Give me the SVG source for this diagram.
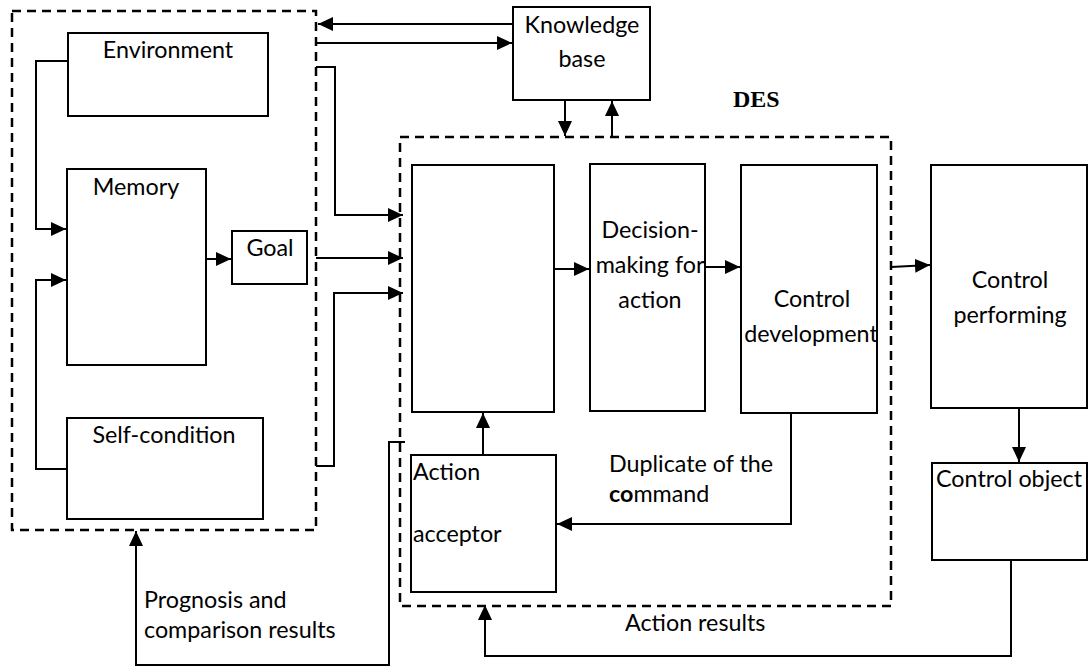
<svg xmlns="http://www.w3.org/2000/svg" width="1089" height="666" viewBox="0 0 1089 666">
<style>
.box{fill:#fff;stroke:#000;stroke-width:2}
.dash{fill:none;stroke:#000;stroke-width:2.5;stroke-dasharray:9 6}
.ln{fill:none;stroke:#000;stroke-width:2}
text{font-family:Lato,"Open Sans",sans-serif;font-size:23.3px;fill:#000}
.c{text-anchor:middle}
.des{font-family:"Liberation Serif",serif;font-weight:bold;font-size:24px}
</style>
<defs>
<marker id="ah" markerUnits="userSpaceOnUse" markerWidth="16" markerHeight="14" refX="15" refY="7" orient="auto">
<path d="M0,0 L15,7 L0,14 Z" fill="#000"/>
</marker>
</defs>
<rect width="1089" height="666" fill="#fff"/>
<g id="containers">
<rect id="left-group" class="dash" x="12" y="11" width="304" height="519"/>
<rect id="des-group" class="dash" x="400" y="137" width="491" height="469"/>
<text class="des" x="733" y="107">DES</text>
</g>
<g id="connectors">
<path class="ln" d="M68,61 H36 V229 H66" marker-end="url(#ah)"/>
<path class="ln" d="M67,469 H36 V280 H66" marker-end="url(#ah)"/>
<path class="ln" d="M206,259 H231" marker-end="url(#ah)"/>
<path class="ln" d="M513,24 H318" marker-end="url(#ah)"/>
<path class="ln" d="M316,43 H512" marker-end="url(#ah)"/>
<path class="ln" d="M565,100 V136" marker-end="url(#ah)"/>
<path class="ln" d="M612,137 V101" marker-end="url(#ah)"/>
<path class="ln" d="M316,67 H335 V215 H403" marker-end="url(#ah)"/>
<path class="ln" d="M316,258 H403" marker-end="url(#ah)"/>
<path class="ln" d="M316,466 H334 V293 H403" marker-end="url(#ah)"/>
<path class="ln" d="M554,269 H589" marker-end="url(#ah)"/>
<path class="ln" d="M705,267 H740" marker-end="url(#ah)"/>
<path class="ln" d="M891,267 L930,265" marker-end="url(#ah)"/>
<path class="ln" d="M483,455 V413" marker-end="url(#ah)"/>
<path class="ln" d="M791,413 V524 H557" marker-end="url(#ah)"/>
<path class="ln" d="M1019,408 V462" marker-end="url(#ah)"/>
<path class="ln" d="M1011,560 V656 H485 V605" marker-end="url(#ah)"/>
<path class="ln" d="M405,442 H389 V665 H136 V531" marker-end="url(#ah)"/>
</g>
<g id="environment"><rect class="box" x="68" y="33" width="200" height="83"/><text class="c" x="168" y="58">Environment</text></g>
<g id="memory"><rect class="box" x="67" y="169" width="139" height="196"/><text class="c" x="136" y="195">Memory</text></g>
<g id="goal"><rect class="box" x="232" y="231" width="75" height="53"/><text class="c" x="270" y="256">Goal</text></g>
<g id="self-condition"><rect class="box" x="67" y="418" width="196" height="101"/><text class="c" x="164" y="443">Self-condition</text></g>
<g id="knowledge-base"><rect class="box" x="513" y="7" width="137" height="93"/><text class="c" x="582" y="33">Knowledge</text><text class="c" x="582" y="67">base</text></g>
<g id="analysis-block"><rect class="box" x="412" y="165" width="142" height="247"/></g>
<g id="decision-making"><rect class="box" x="590" y="164" width="115" height="247"/><text class="c" x="650" y="238">Decision-</text><text class="c" x="650" y="273">making for</text><text class="c" x="650" y="308">action</text></g>
<g id="control-development"><rect class="box" x="741" y="165" width="136" height="248"/><text class="c" x="812" y="307">Control</text><text class="c" x="811" y="342">development</text></g>
<g id="control-performing"><rect class="box" x="931" y="165" width="156" height="243"/><text class="c" x="1010" y="288">Control</text><text class="c" x="1010" y="323">performing</text></g>
<g id="control-object"><rect class="box" x="932" y="463" width="155" height="97"/><text x="936" y="487">Control object</text></g>
<g id="action-acceptor"><rect class="box" x="411" y="455" width="145" height="137"/><text x="413" y="480">Action</text><text x="413" y="542">acceptor</text></g>
<g id="labels">
<text x="609" y="472">Duplicate of the</text>
<text x="609" y="502"><tspan font-weight="bold">co</tspan>mmand</text>
<text x="625" y="631">Action results</text>
<text x="144" y="608">Prognosis and</text>
<text x="144" y="638">comparison results</text>
</g>
</svg>
